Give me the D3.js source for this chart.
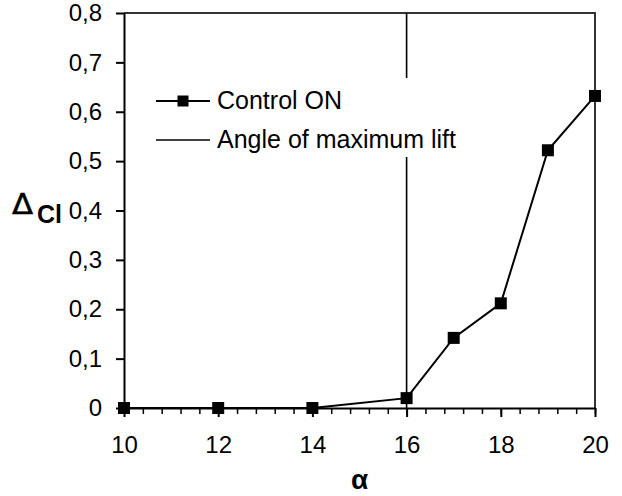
<!DOCTYPE html>
<html><head><meta charset="utf-8">
<script src="https://cdn.jsdelivr.net/npm/d3@7"></script>
<style>body{margin:0;background:#fff}svg{display:block;font-family:"Liberation Sans",Arial,sans-serif}</style>
</head><body>
<svg id="c" width="622" height="496"></svg>
<script>
const alpha = [10, 12, 14, 16, 17, 18, 19, 20];
const deltaCl = [0, 0, 0, 0.02, 0.142, 0.212, 0.522, 0.632];
const xTicks = [10, 12, 14, 16, 18, 20];
const yTicks = [0, 0.1, 0.2, 0.3, 0.4, 0.5, 0.6, 0.7, 0.8];
const maxLiftAngle = 16;
const legendLabels = ["Control ON", "Angle of maximum lift"];

const svg = d3.select("#c");
const L = 124, R = 595, T = 13, B = 408;
const FS = 24;
const FF = "Liberation Sans";
const x = d3.scaleLinear().domain([10, 20]).range([L, R]);
const y = d3.scaleLinear().domain([0, 0.8]).range([B, T]);
const fmt = v => v === 0 ? "0" : d3.format(".1f")(v).replace(".", ",");

// plot border top/right
svg.append("path").attr("d", `M${L},${T}H${R}V${B}`).attr("fill","none").attr("stroke","#333").attr("stroke-width",2);

// minor x ticks
const minor = d3.range(10, 20.001, 0.4);
svg.append("g").attr("transform", `translate(0,${B})`)
  .call(d3.axisBottom(x).tickValues(minor).tickSize(6).tickFormat(""))
  .call(g => { g.select(".domain").remove(); g.selectAll("line").attr("stroke","#000").attr("stroke-width",1.5); });

// x axis
const xa = svg.append("g").attr("transform", `translate(0,${B})`)
  .call(d3.axisBottom(x).tickValues(xTicks).tickSize(9).tickSizeOuter(0).tickPadding(19).tickFormat(d => d));
xa.attr("font-family", FF);
xa.select(".domain").attr("stroke","#000").attr("stroke-width",2);
xa.selectAll("line").attr("stroke","#000").attr("stroke-width",2);
xa.selectAll("text").attr("font-size",FS).attr("fill","#000");

// y axis
const ya = svg.append("g").attr("transform", `translate(${L},0)`)
  .call(d3.axisLeft(y).tickValues(yTicks).tickSize(8).tickSizeOuter(0).tickPadding(14).tickFormat(fmt));
ya.attr("font-family", FF);
ya.select(".domain").attr("stroke","#000").attr("stroke-width",2);
ya.selectAll("line").attr("stroke","#000").attr("stroke-width",2);
ya.selectAll("text").attr("font-size",FS).attr("fill","#000");

// vertical line at max lift
svg.append("line").attr("x1", x(maxLiftAngle)).attr("x2", x(maxLiftAngle))
  .attr("y1", T).attr("y2", B).attr("stroke","#000").attr("stroke-width",1.6);

// data line
const pts = alpha.map((a,i)=>[a, deltaCl[i]]);
svg.append("path").datum(pts)
  .attr("d", d3.line().x(d=>x(d[0])).y(d=>y(d[1])))
  .attr("fill","none").attr("stroke","#000").attr("stroke-width",2);
const ms = 12;
svg.selectAll("rect.m").data(pts).enter().append("rect").attr("class","m")
  .attr("x", d=>x(d[0])-ms/2).attr("y", d=>y(d[1])-ms/2)
  .attr("width", ms).attr("height", ms).attr("fill","#000");

// legend
const lg = svg.append("g");
lg.append("rect").attr("x",150).attr("y",78).attr("width",330).attr("height",79).attr("fill","#fff");
const ly = [101, 140];
lg.append("line").attr("x1",156).attr("x2",210).attr("y1",ly[0]).attr("y2",ly[0]).attr("stroke","#000").attr("stroke-width",2);
lg.append("rect").attr("x",183-5.5).attr("y",ly[0]-5.5).attr("width",11).attr("height",11).attr("fill","#000");
lg.append("line").attr("x1",156).attr("x2",210).attr("y1",ly[1]).attr("y2",ly[1]).attr("stroke","#000").attr("stroke-width",1.6);
legendLabels.forEach((t,i)=>{
  lg.append("text").attr("x",217).attr("y",ly[i]+8).attr("font-size",25).text(t);
});

// axis titles
svg.append("text").attr("x", x(15)).attr("y", 489).attr("text-anchor","middle")
  .attr("font-size",28).attr("font-weight","bold").text("α");
svg.append("text").attr("transform","translate(12,214) scale(1.1,1)")
  .attr("font-family","DejaVu Sans").attr("font-size",28)
  .attr("stroke","#000").attr("stroke-width",0.5).text("Δ");
svg.append("text").attr("x",37).attr("y",223).attr("font-size",25).attr("font-weight","bold").text("Cl");
</script>
</body></html>
